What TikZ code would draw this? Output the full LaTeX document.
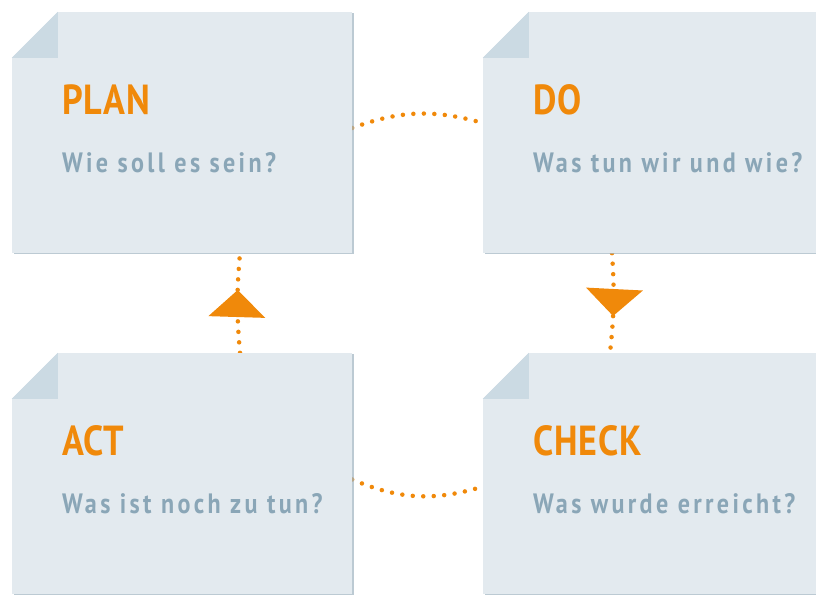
\documentclass[tikz,border=0pt]{standalone}
\usepackage{fontspec}
\setmainfont{PT Sans}
\newfontfamily\cardfont[FakeStretch=0.86]{PT Sans}
\usetikzlibrary{calc,arrows.meta,shadows,decorations.markings,backgrounds}
\definecolor{cardfill}{HTML}{E3EAEF}
\definecolor{foldfill}{HTML}{CBDAE3}
\definecolor{shadowc}{HTML}{9FB3C0}
\definecolor{pdcaorange}{HTML}{F0890A}
\definecolor{subgrey}{HTML}{8AA6B7}

\begin{document}
\begin{tikzpicture}[x=1pt,y=1pt,
  card/.style={rectangle,fill=cardfill,minimum width=340pt,minimum height=241pt,inner sep=0pt,
    drop shadow={shadow xshift=1.5pt,shadow yshift=-1.5pt,fill=shadowc,opacity=0.7}},
  cardtitle/.style={anchor=base west,inner sep=0pt,text=pdcaorange,
    font=\cardfont\bfseries\fontsize{42}{50}\selectfont\addfontfeatures{LetterSpace=2}},
  cardtext/.style={anchor=base west,inner sep=0pt,text=subgrey,
    font=\cardfont\bfseries\fontsize{28}{34}\selectfont\addfontfeatures{LetterSpace=12}},
  dots/.style={draw=pdcaorange,line width=4.5pt,line cap=round,dash pattern=on 0pt off 10.5pt},
  midtip/.style={postaction={decorate},decoration={markings,
    mark=at position 0.63 with {\arrow[pdcaorange]{Triangle[length=27pt,width=56pt]}}}}]
  \useasboundingbox (0,0) rectangle (816,594);
  \clip (0,0) rectangle (816,594);
  % the four cards
  \foreach \name/\x/\y/\title/\text in {plan/182/461.5/PLAN/Wie soll es sein?,
      do/653/461.5/DO/Was tun wir und wie?,
      act/182/120.5/ACT/Was ist noch zu tun?,
      check/653/120.5/CHECK/Was wurde erreicht?} {
    \node[card] (\name) at (\x,\y) {};
    \fill[white] (\name.north west) -- ++(46,0) -- ++(-46,-46) -- cycle;
    \fill[foldfill] ($(\name.north west)+(46,0)$) -- ++(0,-46) -- ++(-46,0) -- cycle;
    \node[cardtitle] (\name-title) at ($(\name.north west)+(50,-103)$) {\title};
    \node[cardtext] (\name-text) at ($(\name.north west)+(50,-161)$) {\text};
  }
  % dotted connectors
  \begin{scope}[on background layer]
    \draw[dots] ($(plan.east)+(0,4.5)$) to[bend left=18] ($(do.west)+(0,9.5)$);
    \draw[dots] ($(act.east)+(0,-6)$) to[bend right=20] ($(check.east)+(-340,-13)$);
    \draw[dots,midtip] ($(act.north)+(58,0)$) to[bend left=5] ($(plan.south)+(58,0)$);
    \draw[dots,midtip] ($(do.south)+(-41,0)$) to[bend left=5] ($(check.north)+(-43,0)$);
  \end{scope}
\end{tikzpicture}
\end{document}
